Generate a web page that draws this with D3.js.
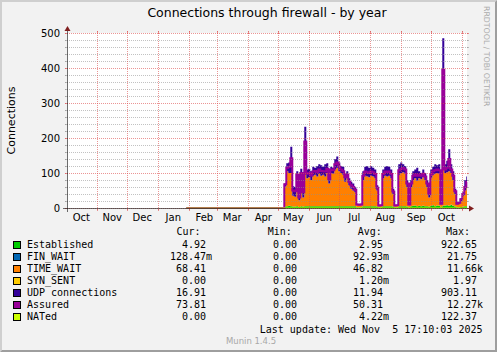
<!DOCTYPE html>
<html><head><meta charset="utf-8">
<script src="https://cdn.jsdelivr.net/npm/d3@7"></script>
<style>
html,body{margin:0;padding:0;background:#f2f2f2;}
svg{display:block;}
text{font-family:"DejaVu Sans",sans-serif;}
.mono{font-family:"DejaVu Sans Mono",monospace;font-size:10px;white-space:pre;}
</style></head><body>
<svg id="c" width="497" height="352"></svg>
<script>
// ---------------- data ----------------
const title = "Connections through firewall - by year";
const yLabel = "Connections";
const yMajorTicks = [0, 100, 200, 300, 400, 500];
const yMinorStep = 20;
const monthLabels = ["Oct","Nov","Dec","Jan","Feb","Mar","Apr","May","Jun","Jul","Aug","Sep","Oct"];
const endTime = "2025-11-05T17:10:03Z";
const spanDays = 400;
const zeroSince = "2025-01-29";   // data present (all zero) from here
const dataStart = "2025-05-07";   // first non-zero sample
const stepDays = 2;

const established = [4,5,6,5,4,4,5,3,5,4, 5,5,5,5,5,5,5,5,5,5, 5,5,5,5,5,5,5,5,5,5, 5,5,5,5,5,5,2,2,2,5,
  5,5,5,5,5,5,4,2,2,5, 5,5,5,5,4,2,2,5,5,5, 5,4,2,5,6,7,5,6,5,6, 5,5,4,6,8,5,7,6,2,6, 7,8,6,9,6,4,2,2,3,4, 5,5];
const finWait = [0.1,0.1,0.1,0.1,0.1,0.1,0.1,0.1,0.1,0.1, 0.1,0.1,0.1,0.1,0.1,0.1,0.1,0.1,0.1,0.1, 0.1,0.1,0.1,0.1,0.1,0.1,0.1,0.1,0.1,0.1,
  0.1,0.1,0.1,0.1,0.1,0.1,0,0,0,0.1, 0.1,0.1,0.1,0.1,0.1,0.1,0.1,0,0,0.1, 0.1,0.1,0.1,0.1,0.1,0,0,0.1,0.1,0.1, 0.1,0.1,0,0.1,0.1,0.1,0.1,0.1,0.1,0.1,
  0.1,0.1,0.1,0.1,0.1,0.1,0.1,0.1,0,0.1, 0.1,0.1,0.1,0.1,0.1,0.1,0,0,0.1,0.1, 0.1,0.1];
const timeWait = [57,100,94,95,31,28,75,19,83,26, 145,80,83,75,87,90,85,93,87,90, 85,95,65,95,93,105,110,100,95,90,
  70,80,60,50,45,40,6,5,6,75, 87,85,83,87,85,80,46,3,4,80, 87,85,87,80,36,3,4,90,95,97,
  93,56,6,55,74,78,73,79,77,82, 75,55,26,79,87,93,93,92,8,334, 93,94,99,91,74,36,8,10,17,31, 45,68];
const synSent = [0,0,0,0,0,0,0,0,0,0, 0,0,0,0,0,0,0,0,0,0, 0,0,0,0,0,0,0,0,0,0, 0,0,0,0,0,0,0,0,0,0,
  0,0,0,0,0,0,0,0,0,0, 0,0,0,0,0,0,0,0,0,0, 0,0,0,0,0,0,0,0,0,0, 0,0,0,0,0,0,0,0,0,0, 0,0,0,0,0,0,0,0,0,0, 0,0];
const udp = [9,23,30,75,27,28,25,23,24,28, 82,25,24,25,26,20,30,27,30,23, 35,28,25,18,17,30,32,25,20,23,
  23,20,20,20,20,15,4,3,4,25, 26,30,27,28,25,25,15,3,3,25, 26,30,26,25,15,3,3,30,30,23,
  22,20,4,20,25,25,37,20,18,22, 20,20,20,25,23,27,22,27,5,145, 25,33,63,25,25,15,5,6,8,10, 30,17];
const assured = [68,115,118,142,50,48,95,30,100,45, 190,98,100,92,104,106,103,110,106,105, 104,112,82,110,108,125,130,118,110,105,
  88,95,75,65,60,52,10,9,10,92, 104,102,100,104,102,97,58,7,8,97, 104,103,104,97,47,7,8,108,112,114,
  110,70,10,70,92,96,92,95,92,98, 90,70,40,96,105,108,110,108,12,394, 110,115,140,110,92,48,12,15,25,40, 60,74];
const nated = [0,0,0,0,0,0,0,0,0,0, 0,0,0,0,0,0,0,0,0,0, 0,0,0,0,0,0,0,0,0,0, 0,0,0,0,0,0,0,0,0,0,
  0,0,0,0,0,0,0,0,0,0, 0,0,0,0,0,0,0,0,0,0, 0,0,0,0,0,0,0,0,0,0, 0,0,0,0,0,0,0,0,0,0, 0,0,0,0,0,0,0,0,0,0, 0,0];

const legendNames = ["Established","FIN_WAIT","TIME_WAIT","SYN_SENT","UDP connections","Assured","NATed"];
const legendColors = ["#00CC00","#0066B3","#FF8000","#FFCC00","#330099","#990099","#CCFF00"];
const curVals = ["4.92","128.47m","68.41","0.00","16.91","73.81","0.00"];
const minVals = ["0.00","0.00","0.00","0.00","0.00","0.00","0.00"];
const avgVals = ["2.95","92.93m","46.82","1.20m","11.94","50.31","4.22m"];
const maxVals = ["922.65","21.75","11.66k","1.97","903.11","12.27k","122.37"];
const lastUpdate = "Last update: Wed Nov  5 17:10:03 2025";
const footer = "Munin 1.4.5";
const watermark = "RRDTOOL / TOBI OETIKER";

// ---------------- layout ----------------
const W = 497, H = 352;
const X0 = 67, X1 = 467, Y0 = 208, Y1 = 33;
const svg = d3.select("#c");

const parse = d3.utcParse("%Y-%m-%d");
const end = new Date(endTime);
const start = new Date(+end - spanDays * 864e5);
const x = d3.scaleTime().domain([start, end]).range([X0, X1]);
const y = d3.scaleLinear().domain([0, 500]).range([Y0, Y1]);

// background + 3D frame
svg.append("rect").attr("width", W).attr("height", H).attr("fill", "#f2f2f2");
svg.append("path").attr("d", `M0,${H} L2,${H-2} L2,2 L${W-2},2 L${W},0 L0,0 Z`).attr("fill", "#cfcfcf");
svg.append("path").attr("d", `M2,${H-2} L${W-2},${H-2} L${W-2},2 L${W},0 L${W},${H} L0,${H} Z`).attr("fill", "#9e9e9e");

// canvas
svg.append("rect").attr("x", X0).attr("y", Y1).attr("width", X1 - X0).attr("height", Y0 - Y1 + 1).attr("fill", "#ffffff");

// rows
const keys = ["established","finWait","timeWait","synSent","udp"];
const src = {established, finWait, timeWait, synSent, udp, assured, nated};
const rows = [];
const zeroRow = {date: parse(zeroSince)};
Object.keys(src).forEach(k => zeroRow[k] = 0);
rows.push(zeroRow);
const d0 = parse(dataStart);
for (let i = 0; i < timeWait.length; i++) {
  const r = {date: d3.utcDay.offset(d0, i * stepDays)};
  Object.keys(src).forEach(k => r[k] = src[k][i]);
  rows.push(r);
}
const lastRow = Object.assign({}, rows[rows.length - 1], {date: end});
rows.push(lastRow);

const stacked = d3.stack().keys(keys)(rows);
const area = d3.area().curve(d3.curveStepAfter)
  .x(d => x(d.data.date)).y0(d => y(d[0])).y1(d => y(d[1]));
const gData = svg.append("g");
stacked.forEach((s, i) => {
  gData.append("path").attr("d", area(s)).attr("fill", legendColors[i]);
});
const lineOf = k => d3.line().curve(d3.curveStepAfter).x(d => x(d.date)).y(d => y(d[k]))(rows);
gData.append("path").attr("d", lineOf("assured")).attr("fill", "none").attr("stroke", legendColors[5]).attr("stroke-width", 2);
gData.append("path").attr("d", lineOf("nated")).attr("fill", "none").attr("stroke", legendColors[6]).attr("stroke-width", 1);

// grid
const gGrid = svg.append("g").attr("shape-rendering", "crispEdges");
const minorCol = "rgba(143,143,143,0.55)", majorCol = "rgba(222,79,79,0.6)";
for (let v = 0; v <= 500; v += yMinorStep) {
  const yy = Math.round(y(v)) + 0.5;
  const major = yMajorTicks.includes(v);
  const c = major ? majorCol : minorCol;
  gGrid.append("line").attr("x1", X0 - 2).attr("x2", X1 + 2).attr("y1", yy).attr("y2", yy)
    .attr("stroke", c).attr("stroke-dasharray", "1,1");
  gGrid.append("line").attr("x1", X0 - 2).attr("x2", X0 + (major ? 1 : 0)).attr("y1", yy).attr("y2", yy).attr("stroke", c);
  gGrid.append("line").attr("x1", X1).attr("x2", X1 + 2).attr("y1", yy).attr("y2", yy).attr("stroke", c);
}
const monthStarts = d3.utcMonth.range(d3.utcMonth.ceil(start), end);
monthStarts.forEach(m => {
  const xx = Math.round(x(m)) + 0.5;
  gGrid.append("line").attr("x1", xx).attr("x2", xx).attr("y1", Y1 - 2).attr("y2", Y0 + 2)
    .attr("stroke", majorCol).attr("stroke-dasharray", "1,1");
  gGrid.append("line").attr("x1", xx).attr("x2", xx).attr("y1", Y0 + 0.5).attr("y2", Y0 + 3).attr("stroke", majorCol);
  gGrid.append("line").attr("x1", xx).attr("x2", xx).attr("y1", Y1 - 2).attr("y2", Y1 + 0.5).attr("stroke", majorCol);
});

// axes
const axisCol = "rgba(31,31,31,0.65)";
svg.append("line").attr("x1", X0 - 4).attr("x2", X1 + 4).attr("y1", Y0 + 0.5).attr("y2", Y0 + 0.5)
  .attr("stroke", axisCol).attr("shape-rendering", "crispEdges");
svg.append("line").attr("x1", X0 + 0.5).attr("x2", X0 + 0.5).attr("y1", Y0 + 4).attr("y2", Y1 - 4)
  .attr("stroke", axisCol).attr("shape-rendering", "crispEdges");
svg.append("path").attr("d", `M${X1+2},${Y0+0.5-3} L${X1+2},${Y0+0.5+3} L${X1+7},${Y0+0.5} Z`).attr("fill", "#801f1f");
svg.append("path").attr("d", `M${X0+0.5-3},${Y1-2} L${X0+0.5+3},${Y1-2} L${X0+0.5},${Y1-7} Z`).attr("fill", "#801f1f");

// y tick labels
yMajorTicks.forEach(v => {
  svg.append("text").attr("x", X0 - 7).attr("y", y(v) + 3.6).attr("text-anchor", "end")
    .attr("font-size", 10).attr("fill", "#000").text(v);
});
// x month labels (centered mid-month)
const labelMonths = d3.utcMonth.range(d3.utcMonth.floor(start), end).slice(0, monthLabels.length);
labelMonths.forEach((m, i) => {
  const xx = x(d3.utcDay.offset(m, 15));
  if (xx < X0 || xx > X1) return;
  svg.append("text").attr("x", xx).attr("y", 221).attr("text-anchor", "middle")
    .attr("font-size", 10).attr("fill", "#000").text(monthLabels[i]);
});

// title, y label, watermark
svg.append("text").attr("x", (X0 + X1) / 2).attr("y", 17).attr("text-anchor", "middle")
  .attr("font-size", 12.5).attr("fill", "#000").text(title);
svg.append("text").attr("transform", `translate(15,${(Y0 + Y1) / 2}) rotate(-90)`).attr("text-anchor", "middle")
  .attr("font-size", 11).attr("fill", "#000").text(yLabel);
svg.append("text").attr("transform", `translate(484,6) rotate(90)`).attr("text-anchor", "start")
  .attr("font-size", 7.8).attr("fill", "#ababab").text(watermark);
svg.append("text").attr("x", 251).attr("y", 344).attr("text-anchor", "middle")
  .attr("font-size", 8.5).attr("fill", "#a8a8a8").text(footer);

// legend
const hdrY = 235.3;
[["Cur:", 176.4], ["Min:", 267.8], ["Avg:", 357.8], ["Max:", 446]].forEach(([t, xx]) => {
  svg.append("text").attr("class", "mono").attr("x", xx).attr("y", hdrY).text(t);
});
const colEnds = [206, 297, 383, 477];
const cols = [curVals, minVals, avgVals, maxVals];
legendNames.forEach((name, k) => {
  const by = 248 + 12 * k;
  svg.append("rect").attr("x", 13.5).attr("y", by - 6.5).attr("width", 7).attr("height", 7)
    .attr("fill", legendColors[k]).attr("stroke", "#000").attr("stroke-width", 1);
  svg.append("text").attr("class", "mono").attr("x", 27).attr("y", by).text(name);
  cols.forEach((arr, c) => {
    const s = arr[k];
    const suf = /[a-zA-Z]$/.test(s) ? s.slice(-1) : "";
    const num = suf ? s.slice(0, -1) : s;
    svg.append("text").attr("class", "mono").attr("x", colEnds[c]).attr("y", by).attr("text-anchor", "end").text(num);
    if (suf) svg.append("text").attr("class", "mono").attr("x", colEnds[c]).attr("y", by).text(suf);
  });
});
svg.append("text").attr("class", "mono").attr("x", 482.5).attr("y", 332.5).attr("text-anchor", "end").text(lastUpdate);
</script>
</body></html>
